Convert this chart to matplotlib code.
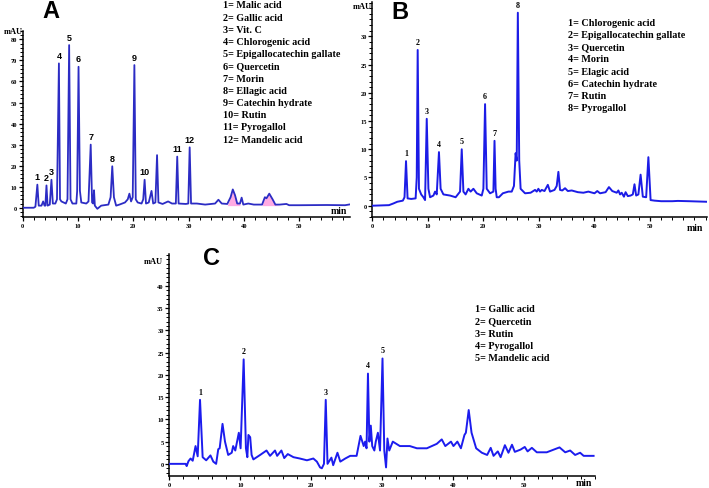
import matplotlib
matplotlib.use('Agg')
import matplotlib.pyplot as plt
from matplotlib.ticker import MultipleLocator

# ---------------- Panel A data ----------------
a_time = [0, 2.0, 2.3, 2.65, 2.9, 3.4, 3.7, 3.95, 4.1, 4.3, 4.5, 4.9, 5.2, 5.45, 5.9, 6.2, 6.55,
          6.75, 7.0, 7.8, 8.1, 8.4, 8.65, 9.0, 9.7, 9.85, 10.1, 10.35, 10.6, 11.5, 11.9, 12.3,
          12.55, 12.75, 12.9, 13.05, 13.5, 14.2, 15.5, 15.9, 16.2, 16.5, 16.9, 17.5, 18.5, 19.0,
          19.3, 19.6, 19.9, 20.2, 20.45, 20.8, 21.5, 21.8, 22.05, 22.3, 22.8, 23.3, 23.6, 24.0,
          24.3, 24.55, 25.3, 26.3, 27.0, 27.7, 27.95, 28.2, 29.5, 29.95, 30.2, 30.45, 31.5, 33.0,
          34.8, 35.4, 36.0, 37.0, 37.6, 38.0, 38.4, 38.8, 39.3, 39.6, 39.9, 40.8, 41.8, 43.3,
          43.8, 44.1, 44.6, 45.2, 45.7, 46.5, 47.7, 48.2, 50.0, 55.0, 58.3, 59.2]
a_mau = [0, 0, 0.5, 11, 1, 1, 3, 1, 1, 10.6, 1, 1.5, 13.3, 2, 2, 4, 68.6,
         4, 3, 2, 4, 77.3, 4, 2, 2, 8, 67, 8, 2.5, 2, 3, 30,
         2.5, 2, 8.3, 1, -0.5, 1, 1.5, 5, 19.7, 5, 1, 1.5, 2.5, 4,
         6.7, 3, 5, 67.8, 4, 2.5, 2, 4, 13.3, 2, 2.5, 8, 2, 2.5,
         25, 2.5, 1.8, 3, 2, 2, 24.3, 2, 1.8, 2, 28.7, 2, 2, 1.5,
         2, 3.8, 2, 1.8, 5, 8.7, 6, 2, 2, 4.8, 1.5, 2, 1.5, 1.5,
         5, 4.5, 6.7, 4, 1.5, 1.5, 1.8, 1.2, 1.2, 1.3, 1.2, 1.6]
a_peak_time = [2.65, 4.3, 5.2, 6.55, 8.4, 10.1, 12.3, 16.2, 20.2, 22.05, 27.95, 30.2]
a_peak_mau = [11, 10.6, 13.3, 68.6, 77.3, 67, 30, 19.7, 67.8, 13.3, 24.3, 28.7]
a_peak_labels = ['1', '2', '3', '4', '5', '6', '7', '8', '9', '10', '11', '12']
a_compounds = ['Malic acid', 'Gallic acid', 'Vit. C', 'Chlorogenic acid',
               'Epigallocatechin gallate', 'Quercetin', 'Morin', 'Ellagic acid',
               'Catechin hydrate', 'Rutin', 'Pyrogallol', 'Mandelic acid']
a_pink_ranges = [(37.3, 39.4), (43.4, 46.0)]

# ---------------- Panel B data ----------------
b_time = [0, 3.0, 3.8, 4.5, 5.5, 5.8, 6.07, 6.35, 7.0, 7.8, 8.0, 8.17, 8.4, 8.8, 9.2, 9.5, 9.8,
          10.1, 10.4, 11.0, 11.3, 11.6, 12.0, 12.3, 12.8, 14.0, 15.0, 15.8, 16.1, 16.4, 16.8,
          17.3, 17.7, 18.2, 18.8, 19.7, 20.0, 20.3, 20.6, 21.2, 21.8, 22.0, 22.2, 22.4, 22.8,
          23.5, 24.5, 25.1, 25.5, 25.8, 26.0, 26.2, 26.45, 26.7, 27.5, 28.5, 29.3, 29.6, 29.9,
          30.2, 30.5, 31.0, 31.6, 32.0, 32.8, 33.2, 33.5, 33.8, 34.2, 34.7, 35.2, 35.9, 37.0,
          38.0, 38.9, 40.0, 40.5, 41.0, 42.0, 42.6, 43.2, 44.0, 44.3, 44.6, 44.9, 45.3, 45.6,
          46.0, 46.5, 46.9, 47.2, 47.5, 47.9, 48.3, 48.7, 49.3, 49.7, 50.1, 50.8, 52.0, 54.0,
          55.0, 57.0, 60.2]
b_mau = [0, 0.1, 0.4, 0.7, 0.9, 1.5, 7.9, 1.3, 1.2, 1.3, 5, 27.6, 3, 2, 1.5, 1, 15.4,
         3, 1.5, 1.8, 2.5, 2, 9.5, 3, 2, 1.8, 1.5, 2.5, 10, 2.5, 2,
         3, 2.5, 3, 2.2, 1.8, 3, 18, 3, 2.2, 2.5, 11.5, 3, 1.5, 1.5,
         2.2, 2.5, 2.5, 3.5, 9.3, 8, 34.2, 8, 3, 2.2, 2.3, 2.8, 2.5, 3,
         2.5, 2.8, 2.6, 3.7, 2.5, 2.8, 3.5, 6, 2.8, 2.7, 3.1, 2.6, 2.7, 2.4,
         2.3, 2.5, 2.2, 2.6, 2.2, 2.4, 3.3, 2.6, 2.3, 2.7, 2.0, 2.3, 1.6, 2.4,
         1.7, 1.8, 2.0, 3.8, 1.8, 2.0, 5.5, 1.6, 1.5, 8.6, 1.0, 0.9, 0.8, 0.8,
         0.85, 0.8, 0.7]
b_peak_time = [6.07, 8.17, 9.8, 12.0, 16.1, 20.3, 22.0, 26.2]
b_peak_mau = [7.9, 27.6, 15.4, 9.5, 10, 18, 11.5, 34.2]
b_peak_labels = ['1', '2', '3', '4', '5', '6', '7', '8']
b_compounds = ['Chlorogenic acid', 'Epigallocatechin gallate', 'Quercetin', 'Morin',
               'Elagic acid', 'Catechin hydrate', 'Rutin', 'Pyrogallol']

# ---------------- Panel C data ----------------
c_time = [0, 2.3, 2.45, 2.7, 3.0, 3.3, 3.7, 4.0, 4.33, 4.7, 5.2, 5.8, 6.2, 6.6, 6.9, 7.1,
          7.5, 7.85, 8.3, 8.8, 9.0, 9.3, 9.8, 10.05, 10.48, 10.8, 11.0, 11.15, 11.4, 11.6,
          11.85, 12.8, 13.7, 14.2, 14.9, 15.2, 15.8, 16.2, 16.7, 17.5, 18.4, 19.4, 20.3, 20.8,
          21.25, 21.5, 21.8, 22.05, 22.3, 22.85, 23.1, 23.7, 24.1, 24.8, 25.5, 26.4, 26.95,
          27.4, 27.6, 27.8, 28.0, 28.2, 28.4, 28.6, 28.9, 29.1, 29.4, 29.7, 30.05, 30.3,
          30.55, 30.75, 31.0, 31.5, 32.5, 33.9, 34.9, 36.3, 37.7, 38.4, 38.9, 39.7, 40.05,
          40.6, 41.1, 41.6, 41.8, 42.2, 42.6, 43.25, 44.05, 44.8, 45.3, 45.7, 46.3, 46.7,
          47.3, 47.8, 48.3, 48.7, 49.5, 50.1, 50.5, 51.1, 51.8, 53.2, 55.0, 55.8, 56.5,
          57.2, 57.9, 58.4, 59.8]
c_mau = [0, 0, -0.5, 0.6, 1.2, 0.7, 4, 1.7, 14.4, 1.5, 0.8, 1.9, 0.5, 0, 3.3, 3.5,
         9, 5, 2, 2.5, 4, 3, 7, 3.5, 23.5, 3.5, 1.5, 6.5, 6, 2,
         1, 2, 3, 1.8, 3, 1.8, 3, 1.3, 2.2, 1.5, 1.2, 0.8, 1.2, 0.5,
         -0.8, -1, 0, 14.4, 0, 1.4, -0.3, 2.5, 0.5, 1.2, 1.8, 1.8, 6.3,
         4, 5, 3.5, 20.3, 5, 8.6, 4, 3, 5, 7, 3, 23.7, 3,
         -0.8, 5.7, 3, 5, 4, 4, 3.5, 3.5, 4.5, 5.5, 4, 5, 4,
         5, 3.5, 6.5, 7, 12.1, 7, 3.5, 2.5, 2, 3.6, 1.8, 2.8, 1.5,
         4.2, 2.5, 4.3, 2.7, 3.2, 3.8, 2.8, 3.6, 2.6, 2.6, 3.7, 2.6, 3,
         2, 2.5, 1.8, 1.8]
c_peak_time = [4.33, 10.48, 22.05, 28.0, 30.05]
c_peak_mau = [14.4, 23.5, 14.4, 20.3, 23.7]
c_peak_labels = ['1', '2', '3', '4', '5']
c_compounds = ['Gallic acid', 'Quercetin', 'Rutin', 'Pyrogallol', 'Mandelic acid']

x_ticks = [0, 10, 20, 30, 40, 50]
a_y_ticks = [0, 10, 20, 30, 40, 50, 60, 70, 80]
b_y_ticks = [0, 5, 10, 15, 20, 25, 30]
c_y_ticks = [0, 5, 10, 15, 20, 25, 30, 35, 40]

# ---------------- Figure ----------------
W, H = 709, 489
fig = plt.figure(figsize=(W / 100, H / 100), dpi=100)
fig.patch.set_facecolor('white')

SERIF = 'Liberation Serif'
SANS = 'Liberation Sans'


def px_axes(left, top, right, bottom):
    return fig.add_axes([left / W, 1 - bottom / H, (right - left) / W, (bottom - top) / H])


def style_axes(ax, xlim, ylim, yticks, ymajor_minor):
    ax.set_xlim(*xlim)
    ax.set_ylim(*ylim)
    for s in ['top', 'right']:
        ax.spines[s].set_visible(False)
    for s in ['left', 'bottom']:
        ax.spines[s].set_linewidth(1.1)
        ax.spines[s].set_color('black')
    ax.set_xticks(x_ticks)
    ax.set_yticks(yticks)
    ax.xaxis.set_minor_locator(MultipleLocator(2))
    ax.yaxis.set_minor_locator(MultipleLocator(ymajor_minor))
    ax.tick_params(which='major', direction='out', length=3, width=0.9, pad=1.0,
                   labelsize=4.6)
    ax.tick_params(which='minor', direction='out', length=2, width=0.7)
    for lab in ax.get_xticklabels() + ax.get_yticklabels():
        lab.set_fontfamily(SERIF)
        lab.set_fontweight('bold')
    ax.patch.set_alpha(0)


def legend_block(x, y0, items, size=7.3):
    for i, name in enumerate(items):
        fig.text(x / W, 1 - (y0 + i * 12.2) / H, f'{i + 1}= {name}', fontsize=size,
                 fontfamily=SERIF, fontweight='bold', ha='left', va='center')


# Panel A
axA = px_axes(22.7, 32, 350, 218)
axA.plot(a_time, a_mau, color='#2c2cc4', lw=1.3, zorder=3)
for lo, hi in a_pink_ranges:
    axA.fill_between(a_time, 1.0, a_mau, where=[lo <= t <= hi for t in a_time],
                     color='#ff66cc', alpha=0.55, lw=0, zorder=2, interpolate=True)
style_axes(axA, (0, 59.2), (-4.4, 84), a_y_ticks, 2)
for t, v, lab in zip(a_peak_time, a_peak_mau, a_peak_labels):
    axA.annotate(lab, (t, v), xytext=(0, 2.5), textcoords='offset points', ha='center',
                 va='bottom', fontsize=6.5, fontfamily=SANS, fontweight='bold')
axA.text(0, 1, 'mAU', transform=axA.transAxes, ha='right', va='center', fontsize=6,
         fontfamily=SERIF, fontweight='bold')
axA.text(0.965, 0.012, 'min', transform=axA.transAxes, ha='center', va='bottom',
         fontsize=7, fontfamily=SERIF, fontweight='bold')
fig.text(51 / W, 1 - 12 / H, 'A', fontsize=17, fontfamily=SANS, fontweight='bold',
         ha='center', va='center')
legend_block(223, 6, a_compounds)

# Panel B
axB = px_axes(372.3, 3, 706.7, 218)
axB.plot(b_time, b_mau, color='#1c1ce6', lw=1.4, zorder=3)
style_axes(axB, (0, 60.2), (-2, 36.1), b_y_ticks, 1)
for t, v, lab in zip(b_peak_time, b_peak_mau, b_peak_labels):
    axB.annotate(lab, (t, v), xytext=(0, 3), textcoords='offset points', ha='center',
                 va='bottom', fontsize=5.8, fontfamily=SERIF, fontweight='bold')
axB.text(0, 0.98, 'mAU', transform=axB.transAxes, ha='right', va='center', fontsize=6,
         fontfamily=SERIF, fontweight='bold')
axB.text(0.965, -0.03, 'min', transform=axB.transAxes, ha='center', va='top',
         fontsize=7, fontfamily=SERIF, fontweight='bold')
fig.text(400 / W, 1 - 12.5 / H, 'B', fontsize=17, fontfamily=SANS, fontweight='bold',
         ha='center', va='center')
legend_block(568, 23.3, b_compounds)

# Panel C
axC = px_axes(169.3, 255, 595, 477.3)
axC.plot(c_time, c_mau, color='#1c1cee', lw=1.4, zorder=3)
style_axes(axC, (0, 60), (-2.8, 47.2), c_y_ticks, 1)
for t, v, lab in zip(c_peak_time, c_peak_mau, c_peak_labels):
    axC.annotate(lab, (t, v), xytext=(0, 3), textcoords='offset points', ha='center',
                 va='bottom', fontsize=5.8, fontfamily=SERIF, fontweight='bold')
axC.text(-0.015, 0.97, 'mAU', transform=axC.transAxes, ha='right', va='center',
         fontsize=6, fontfamily=SERIF, fontweight='bold')
axC.text(0.975, -0.03, 'min', transform=axC.transAxes, ha='center', va='center',
         fontsize=7, fontfamily=SERIF, fontweight='bold')
fig.text(211.7 / W, 1 - 258.5 / H, 'C', fontsize=17, fontfamily=SANS, fontweight='bold',
         ha='center', va='center')
legend_block(475, 310, c_compounds)

fig.savefig('out.png', dpi=100, facecolor='white')
